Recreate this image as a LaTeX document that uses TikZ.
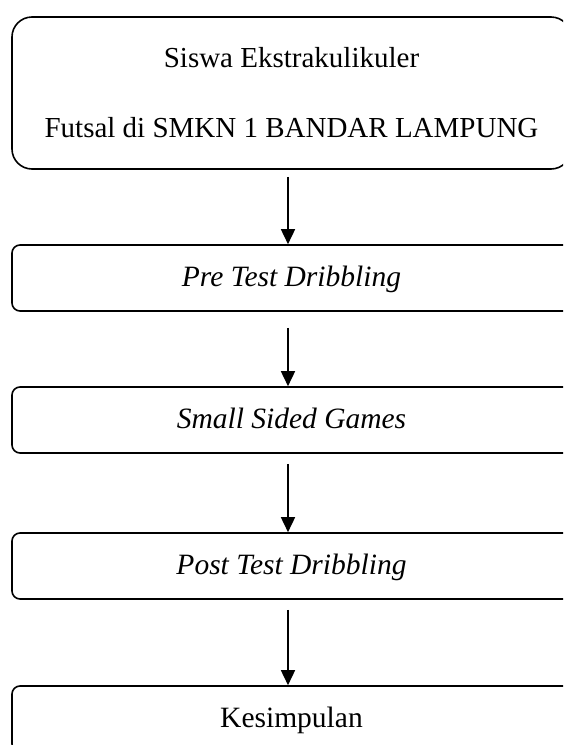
\documentclass[tikz,border=0pt]{standalone}
\usepackage{fontspec}
\setmainfont{Liberation Serif}
\usetikzlibrary{arrows.meta}
\begin{document}
\begin{tikzpicture}[x=1pt,y=-1pt,
  box/.style={draw=black,line width=1.6pt,rectangle,rounded corners=8pt,
    minimum width=559pt,minimum height=66pt,inner sep=0pt,
    font=\fontsize{29.5}{34}\selectfont,align=center},
  smallbox/.style={box,text height=20pt,text depth=4pt},
  bigbox/.style={box,rounded corners=20pt,minimum height=152pt,
    font=\fontsize{29}{70}\selectfont},
  arr/.style={line width=1.6pt,-{Triangle[length=15pt,width=14pt]}}]
\useasboundingbox (0,0) rectangle (563,745);
\clip (0,0) rectangle (563,745);
\node[bigbox] (top) at (291.5,93) {Siswa Ekstrakulikuler\\Futsal di SMKN 1 BANDAR LAMPUNG};
\node[smallbox] (pre) at (291.5,278) {\itshape Pre Test Dribbling};
\node[smallbox] (ssg) at (291.5,420) {\itshape Small Sided Games};
\node[smallbox] (post) at (291.5,566) {\itshape Post Test Dribbling};
\node[smallbox] (kes) at (291.5,719) {Kesimpulan};
\draw[arr] ([xshift=-3.5pt,yshift=-7pt]top.south) -- ([xshift=-3.5pt]pre.north);
\draw[arr] ([xshift=-3.5pt,yshift=-16pt]pre.south) -- ([xshift=-3.5pt]ssg.north);
\draw[arr] ([xshift=-3.5pt,yshift=-10pt]ssg.south) -- ([xshift=-3.5pt]post.north);
\draw[arr] ([xshift=-3.5pt,yshift=-10pt]post.south) -- ([xshift=-3.5pt]kes.north);
\end{tikzpicture}
\end{document}
